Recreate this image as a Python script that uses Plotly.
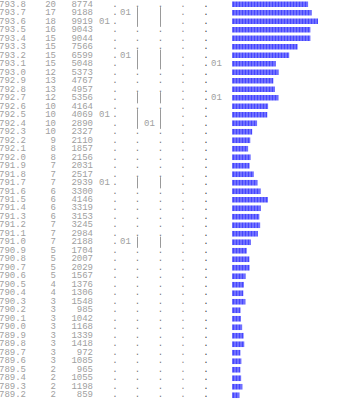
import plotly.graph_objects as go

labels = ["793.8","793.7","793.6","793.5","793.4","793.3","793.2","793.1","793.0","792.9",
          "792.8","792.7","792.6","792.5","792.4","792.3","792.2","792.1","792.0","791.9",
          "791.8","791.7","791.6","791.5","791.4","791.3","791.2","791.1","791.0","790.9",
          "790.8","790.7","790.6","790.5","790.4","790.3","790.2","790.1","790.0","789.9",
          "789.8","789.7","789.6","789.5","789.4","789.3","789.2"]
counts = [20,17,18,16,15,15,15,15,12,13,13,12,10,10,10,10,9,8,8,7,7,7,6,6,6,6,7,7,7,5,
          5,5,5,4,4,3,3,3,3,3,3,3,3,2,2,2,2]
totals = [8774,9188,9919,9043,9044,7566,6599,5048,5373,4767,4957,5356,4164,4069,2890,2327,
          2110,1857,2156,2031,2517,2939,3300,4146,3319,3153,3245,2984,2188,1704,2007,2029,
          1567,1376,1306,1548,985,1042,1168,1339,1418,972,1085,965,1055,1198,859]
# which column carries the "01" marker for each row ("" = none)
flags = ["","F","D","","","","F","L","","","","L","","D","H","","","","","","","D","","",
         "","","","","F","","","","","","","","","","","","","","","","","",""]

rows = list(range(len(labels)))
FONT = "Liberation Mono"
TXT = "#a0a0a0"
DOT = "#777777"

fig = go.Figure()

def col(x, texts, pos, color=TXT, size=9):
    fig.add_trace(go.Scatter(x=[x]*len(texts), y=rows, text=texts, mode="text",
                             textposition=pos, hoverinfo="skip", showlegend=False,
                             textfont=dict(family=FONT, size=size, color=color),
                             xaxis="x", yaxis="y"))

def bars_col(x):
    ys = [r for r, f in zip(rows, flags) if f]
    fig.add_trace(go.Scatter(x=[x]*len(ys), y=ys, mode="markers", hoverinfo="skip",
                             showlegend=False,
                             marker=dict(symbol="line-ns", size=8,
                                         line=dict(color="#9a9a9a", width=1)),
                             xaxis="x", yaxis="y"))
    col(x, ["" if f else "." for f in flags], "middle center", DOT)

col(-1, labels, "middle right")
col(56, [str(c) for c in counts], "middle left")
col(93, [str(t) for t in totals], "middle left")
col(99, ["01" if f == "D" else "" for f in flags], "middle right")
col(115, ["."] * len(rows), "middle center", DOT)
col(120, ["01" if f == "F" else "" for f in flags], "middle right")
bars_col(137.5)
col(144, ["01" if f == "H" else "" for f in flags], "middle right")
bars_col(160.5)
col(183, ["."] * len(rows), "middle center", "#8a8a8a")
col(206, ["."] * len(rows), "middle center", "#444444")
col(211, ["01" if f == "L" else "" for f in flags], "middle right")

fig.add_trace(go.Bar(x=totals, y=rows, orientation="h", width=0.66,
                     marker=dict(color="#8080ff", line=dict(width=0),
                                 pattern=dict(shape="|", fgcolor="#0000ff", bgcolor="#8c8cff",
                                              size=3, solidity=0.6)),
                     hoverinfo="skip", showlegend=False, xaxis="x2", yaxis="y"))

fig.update_layout(
    width=340, height=400, margin=dict(l=0, r=0, t=0, b=0),
    paper_bgcolor="white", plot_bgcolor="white",
    xaxis=dict(domain=[0, 1], range=[0, 340], visible=False, fixedrange=True),
    xaxis2=dict(domain=[232/340, 1], range=[0, 12456], anchor="y", visible=False),
    yaxis=dict(range=[46.56, -0.5], visible=False),
)
fig.write_html("out.html", include_plotlyjs=True, config={"displayModeBar": False})
